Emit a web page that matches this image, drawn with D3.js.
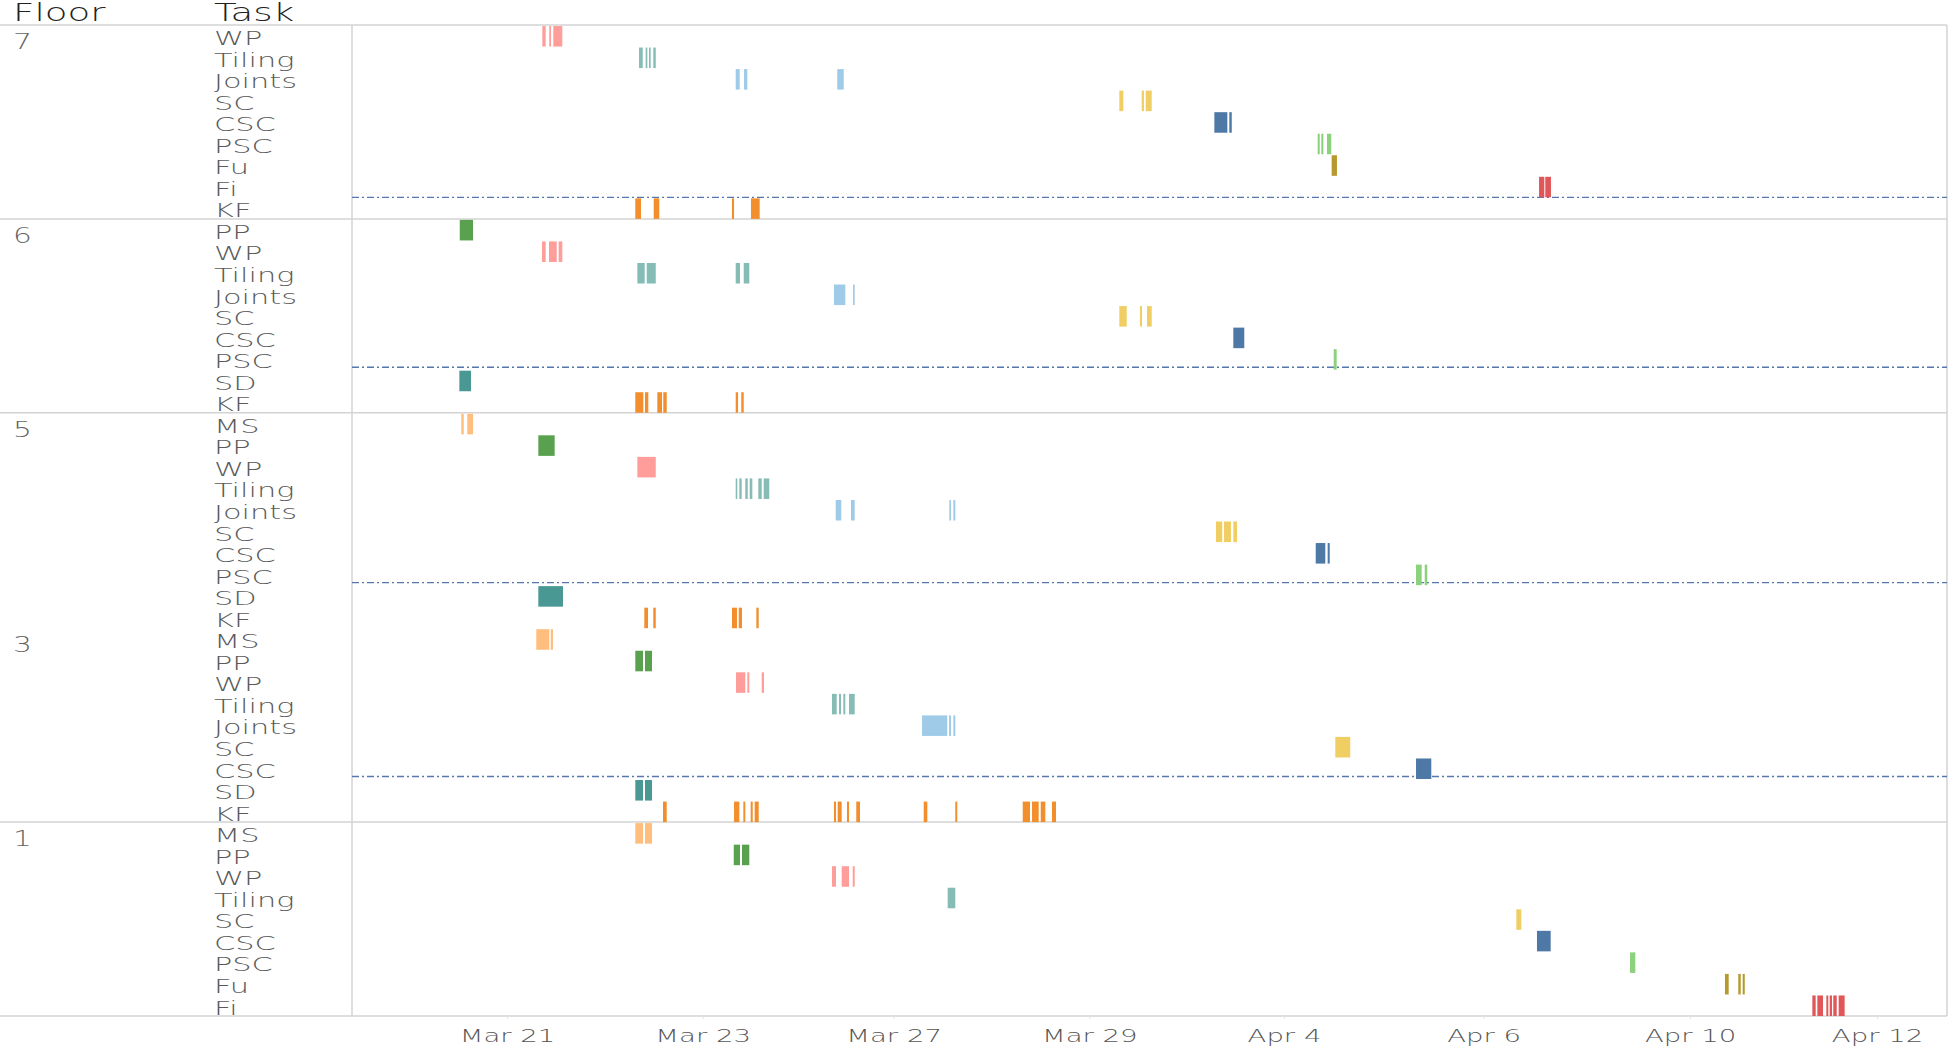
<!DOCTYPE html>
<html>
<head>
<meta charset="utf-8">
<script src="https://cdn.jsdelivr.net/npm/d3@7"></script>
<style>
  body { margin: 0; background: #fff; }
  svg text { font-family: "DejaVu Sans", sans-serif; font-weight: 300; }
</style>
</head>
<body>
<div id="chart"></div>
<script>
// Schedule, x in working-day units (Mar 21 = 0)
const tickDays = [0, 2.0, 3.95, 5.95, 7.94, 9.98, 12.09, 14];
const tickLabels = ['Mar 21', 'Mar 23', 'Mar 27', 'Mar 29', 'Apr 4', 'Apr 6', 'Apr 10', 'Apr 12'];

const floors = ['7', '6', '5', '3', '1'];

const floor7 = [
  ['WP', [[0.361, 0.395], [0.432, 0.450], [0.473, 0.565]]],
  ['Tiling', [[1.349, 1.387], [1.417, 1.434], [1.451, 1.468], [1.495, 1.520]]],
  ['Joints', [[2.337, 2.378], [2.422, 2.456], [3.375, 3.441]]],
  ['SC', [[6.257, 6.298], [6.486, 6.509], [6.527, 6.588]]],
  ['CSC', [[7.228, 7.361], [7.381, 7.406]]],
  ['PSC', [[8.284, 8.305], [8.321, 8.342], [8.379, 8.423]]],
  ['Fu', [[8.427, 8.481]]],
  ['Fi', [[10.546, 10.600], [10.610, 10.668]]],
  ['KF', [[1.311, 1.369], [1.499, 1.556], [2.299, 2.320], [2.493, 2.582]]]
];

const floor6 = [
  ['PP', [[-0.483, -0.347]]],
  ['WP', [[0.358, 0.395], [0.429, 0.508], [0.528, 0.565]]],
  ['Tiling', [[1.332, 1.407], [1.428, 1.520], [2.337, 2.381], [2.419, 2.476]]],
  ['Joints', [[3.341, 3.457], [3.536, 3.553]]],
  ['SC', [[6.257, 6.333], [6.468, 6.489], [6.540, 6.588]]],
  ['CSC', [[7.422, 7.534]]],
  ['PSC', [[8.448, 8.478]]],
  ['SD', [[-0.487, -0.368]]],
  ['KF', [[1.311, 1.393], [1.410, 1.444], [1.536, 1.584], [1.597, 1.632], [2.337, 2.361], [2.394, 2.419]]]
];

const floor5 = [
  ['MS', [[-0.467, -0.442], [-0.406, -0.347]]],
  ['PP', [[0.320, 0.487]]],
  ['WP', [[1.332, 1.520]]],
  ['Tiling', [[2.337, 2.353], [2.374, 2.398], [2.435, 2.460], [2.480, 2.507], [2.568, 2.603], [2.623, 2.680]]],
  ['Joints', [[3.359, 3.416], [3.515, 3.553], [4.520, 4.537], [4.561, 4.581]]],
  ['SC', [[7.245, 7.309], [7.327, 7.398], [7.422, 7.460]]],
  ['CSC', [[8.264, 8.362], [8.386, 8.407]]],
  ['PSC', [[9.289, 9.347], [9.378, 9.404]]],
  ['SD', [[0.320, 0.572]]],
  ['KF', [[1.403, 1.441], [1.495, 1.520], [2.299, 2.350], [2.368, 2.401], [2.548, 2.572]]]
];

const floor3 = [
  ['MS', [[0.299, 0.432], [0.447, 0.470]]],
  ['PP', [[1.311, 1.390], [1.410, 1.482]]],
  ['WP', [[2.340, 2.435], [2.456, 2.476], [2.603, 2.626]]],
  ['Tiling', [[3.321, 3.369], [3.393, 3.413], [3.437, 3.457], [3.495, 3.553]]],
  ['Joints', [[4.241, 4.499], [4.517, 4.537], [4.561, 4.581]]],
  ['SC', [[8.464, 8.617]]],
  ['CSC', [[9.289, 9.445]]],
  ['SD', [[1.311, 1.390], [1.410, 1.482]]],
  ['KF', [[1.594, 1.632], [2.320, 2.374], [2.415, 2.435], [2.490, 2.511], [2.531, 2.572],
          [3.341, 3.362], [3.379, 3.420], [3.474, 3.495], [3.569, 3.607], [4.258, 4.295],
          [4.581, 4.601], [5.270, 5.344], [5.365, 5.433], [5.454, 5.501], [5.569, 5.610]]]
];

const floor1 = [
  ['MS', [[1.311, 1.390], [1.410, 1.482]]],
  ['PP', [[2.317, 2.381], [2.401, 2.476]]],
  ['WP', [[3.321, 3.362], [3.420, 3.495], [3.533, 3.553]]],
  ['Tiling', [[4.503, 4.581]]],
  ['SC', [[10.314, 10.365]]],
  ['CSC', [[10.525, 10.665]]],
  ['PSC', [[11.476, 11.530]]],
  ['Fu', [[12.446, 12.484], [12.582, 12.607], [12.627, 12.648]]],
  ['Fi', [[13.339, 13.373], [13.390, 13.448], [13.482, 13.502], [13.516, 13.540], [13.553, 13.588], [13.608, 13.669]]]
];

const floorTasks = [floor7, floor6, floor5, floor3, floor1];

// floors whose block gets a divider on top, and rows that carry the reference line
const floorsWithRule = ['6', '5', '1'];
const refRows = [['7', 'KF'], ['6', 'SD'], ['5', 'SD'], ['3', 'SD']];

const taskColors = {
  WP: '#ff9d9a', Tiling: '#86bcb6', Joints: '#a0cbe8', SC: '#f1ce63',
  CSC: '#4e79a7', PSC: '#8cd17d', Fu: '#b6992d', Fi: '#e15759',
  KF: '#f28e2b', PP: '#59a14f', SD: '#499894', MS: '#ffbe7d'
};

// Dimensions
const W = 1950, H = 1047;
const plotLeft = 352, plotRight = 1947, plotTop = 25, plotBottom = 1016;

// Rows
const rows = [];
floors.forEach((f, i) => {
  floorTasks[i].forEach(([task, segs]) => rows.push({ key: f + '|' + task, floor: f, task, segs }));
});
const bars = rows.flatMap(r => r.segs.map(s => ({ key: r.key, task: r.task, start: s[0], end: s[1] })));

const svg = d3.select('#chart').append('svg')
  .attr('width', W)
  .attr('height', H);

// Scales
const x = d3.scaleLinear()
  .domain([-1.584, 14.715])
  .range([plotLeft, plotRight]);

const y = d3.scaleBand()
  .domain(rows.map(r => r.key))
  .range([plotTop, plotBottom]);

const floorTop = f => y(rows.find(r => r.floor === f).key);

// stretch text horizontally to mimic the wide original face
function widen(sel, f) {
  sel.each(function() {
    const t = d3.select(this);
    const tx = +t.attr('x') || 0, ty = +t.attr('y') || 0;
    t.attr('x', null).attr('y', null)
      .attr('transform', `translate(${tx},${ty}) scale(${f},1)`);
  });
}

// Headers
svg.append('text').attr('x', 13).attr('y', 21)
  .attr('font-size', 24).attr('fill', '#222').text('Floor').call(widen, 1.55);
svg.append('text').attr('x', 214).attr('y', 21)
  .attr('font-size', 24).attr('fill', '#222').text('Task').call(widen, 1.55);

// Grid lines
const grid = svg.append('g').attr('stroke', '#d3d3d3').attr('stroke-width', 1.5);
grid.append('line').attr('x1', 0).attr('x2', plotRight).attr('y1', plotTop).attr('y2', plotTop);
grid.append('line').attr('x1', 0).attr('x2', plotRight).attr('y1', plotBottom).attr('y2', plotBottom);
grid.selectAll('.floor-rule')
  .data(floorsWithRule)
  .join('line')
  .attr('class', 'floor-rule')
  .attr('x1', 0).attr('x2', plotRight)
  .attr('y1', f => floorTop(f))
  .attr('y2', f => floorTop(f));
grid.append('line').attr('x1', plotLeft).attr('x2', plotLeft).attr('y1', plotTop).attr('y2', plotBottom);
grid.append('line').attr('x1', plotRight).attr('x2', plotRight).attr('y1', plotTop).attr('y2', plotBottom);

// Floor labels
svg.selectAll('.floor-label')
  .data(floors)
  .join('text')
  .attr('class', 'floor-label')
  .attr('x', 13)
  .attr('y', f => floorTop(f) + 24)
  .attr('font-size', 22)
  .attr('fill', '#666')
  .text(f => f)
  .call(widen, 1.35);

// Task labels
svg.selectAll('.task-label')
  .data(rows)
  .join('text')
  .attr('class', 'task-label')
  .attr('x', 214)
  .attr('y', d => y(d.key) + y.bandwidth() - 1.5)
  .attr('font-size', 19)
  .attr('fill', '#5a5a5a')
  .text(d => d.task)
  .call(widen, 1.6);

// Reference lines
const refY = d => y(d[0] + '|' + d[1]) - (d[1] === 'SD' ? 2.5 : 0);
svg.selectAll('.ref-line')
  .data(refRows)
  .join('line')
  .attr('class', 'ref-line')
  .attr('x1', plotLeft).attr('x2', plotRight)
  .attr('y1', refY)
  .attr('y2', refY)
  .attr('stroke', '#5677ad')
  .attr('stroke-width', 1.4)
  .attr('stroke-dasharray', '7,3,2,3');

// Bars
svg.append('g')
  .selectAll('rect')
  .data(bars)
  .join('rect')
  .attr('x', d => x(d.start))
  .attr('y', d => y(d.key) + 1)
  .attr('width', d => Math.max(x(d.end) - x(d.start), 1.6))
  .attr('height', y.bandwidth() - 1)
  .attr('fill', d => taskColors[d.task]);

// X axis
const xAxis = svg.append('g')
  .attr('transform', `translate(0,${plotBottom})`)
  .call(d3.axisBottom(x)
    .tickValues(tickDays)
    .tickFormat((d, i) => tickLabels[i])
    .tickSize(3)
    .tickPadding(10));

xAxis.select('.domain').remove();
xAxis.selectAll('.tick line').attr('stroke', '#e2e2e2');
xAxis.selectAll('.tick text')
  .attr('font-size', 18)
  .attr('font-family', '"DejaVu Sans", sans-serif')
  .attr('fill', '#555')
  .call(widen, 1.53);
</script>
</body>
</html>
